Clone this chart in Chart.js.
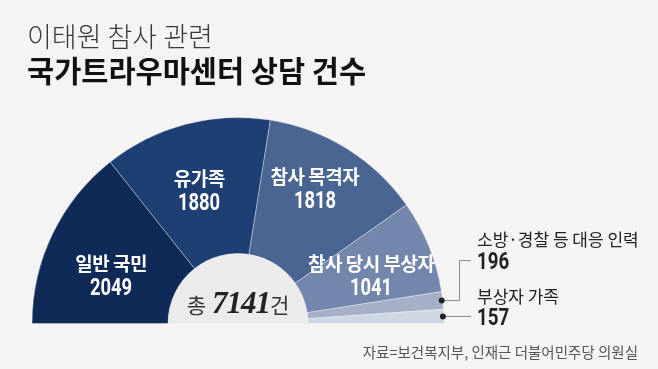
<!DOCTYPE html>
<html><head><meta charset="utf-8">
<script src="https://cdn.jsdelivr.net/npm/chart.js@4/dist/chart.umd.min.js"></script>
<style>
html,body{margin:0;padding:0;background:#f4f4f4;}
#wrap{position:relative;width:658px;height:369px;overflow:hidden;font-family:"Noto Sans CJK KR","Noto Sans",sans-serif;background:#f4f4f4;}
#c{position:absolute;left:0;top:0;}
.t{position:absolute;white-space:nowrap;line-height:1;}
.num{display:inline-block;font-family:Roboto,"Noto Sans",sans-serif;font-weight:700;}
</style></head>
<body><div id="wrap"><canvas id="c" width="658" height="369"></canvas></div>
<script>
// ---- data ----
const titleLine1 = '이태원 참사 관련';
const titleLine2 = '국가트라우마센터 상담 건수';
const categories = ['일반 국민', '유가족', '참사 목격자', '참사 당시 부상자', '소방·경찰 등 대응 인력', '부상자 가족'];
const counts = [2049, 1880, 1818, 1041, 196, 157];
const totalLabel = ['총', '7141', '건'];
const sourceText = '자료=보건복지부, 인재근 더불어민주당 의원실';

// ---- styles ----
const sliceColors = ['#0f2a56', '#1e3f74', '#4a6592', '#7386ac', '#a4b0c8', '#cfd6e3'];
// in-slice label placement: [angle nudge (deg, counter-clockwise), radius px]
const insideLabelPlace = [[4.7, 136], [1.4, 140], [2.6, 157], [-1.8, 142]];

const wrap = document.getElementById('wrap');
function place(html, x, y, css, anchor) {
  const d = document.createElement('div');
  d.className = 't';
  d.innerHTML = html;
  d.style.left = x + 'px';
  d.style.top = y + 'px';
  Object.assign(d.style, css || {});
  const tx = anchor === 'left' ? '0' : anchor === 'right' ? '-100%' : '-50%';
  d.style.transform = 'translate(' + tx + ',-50%)';
  wrap.appendChild(d);
  return d;
}
function numSpan(v, sx, origin) {
  return '<span class="num" style="transform:scaleX(' + sx + ');transform-origin:' + origin + ' center">' + v + '</span>';
}

const innerDisc = {
  id: 'innerDisc',
  beforeDatasetsDraw(chart) {
    const a = chart.getDatasetMeta(0).data[0];
    const ctx = chart.ctx;
    ctx.save();
    ctx.beginPath();
    ctx.arc(a.x, a.y, a.innerRadius, Math.PI, 2 * Math.PI);
    ctx.closePath();
    ctx.fillStyle = '#ebebeb';
    ctx.fill();
    ctx.restore();
  }
};
const leaders = {
  id: 'leaders',
  afterDatasetsDraw(chart) {
    const ctx = chart.ctx;
    const arcs = chart.getDatasetMeta(0).data;
    const targets = [[4, 459, 260], [5, null, null]];
    ctx.save();
    targets.forEach(([i, elbowX, ly]) => {
      const a = arcs[i];
      const m = (a.startAngle + a.endAngle) / 2;
      const px = a.x + Math.cos(m) * (a.outerRadius - 1);
      const py = a.y + Math.sin(m) * (a.outerRadius - 1);
      ctx.strokeStyle = '#8a8a8a';
      ctx.lineWidth = 1;
      ctx.beginPath();
      ctx.moveTo(px, py);
      if (elbowX !== null) {
        ctx.lineTo(elbowX + 0.5, py);
        ctx.lineTo(elbowX + 0.5, ly + 0.5);
        ctx.lineTo(471, ly + 0.5);
      } else {
        ctx.lineTo(471, py);
      }
      ctx.stroke();
      ctx.fillStyle = '#222';
      ctx.beginPath();
      ctx.arc(px, py, 3, 0, 2 * Math.PI);
      ctx.fill();
    });
    ctx.restore();
  }
};

const chart = new Chart(document.getElementById('c'), {
  type: 'doughnut',
  data: {
    labels: categories,
    datasets: [{
      data: counts,
      backgroundColor: sliceColors,
      borderColor: 'rgba(255,255,255,0.35)',
      borderWidth: 1
    }]
  },
  options: {
    responsive: false,
    animation: false,
    rotation: -90,
    circumference: 180,
    cutout: '34%',
    layout: { padding: { left: 31, top: 117, right: 213, bottom: 45 } },
    plugins: { legend: { display: false }, tooltip: { enabled: false } }
  },
  plugins: [innerDisc, leaders]
});

// titles
place(titleLine1, 27, 35, { fontSize: '27px', fontWeight: '300', color: '#3a3a3a' }, 'left');
place(titleLine2, 27, 70, { fontSize: '29.5px', fontWeight: '700', color: '#111' }, 'left');

// in-slice labels
const arcs = chart.getDatasetMeta(0).data;
for (let i = 0; i < 4; i++) {
  const a = arcs[i];
  const m = (a.startAngle + a.endAngle) / 2 - insideLabelPlace[i][0] * Math.PI / 180;
  const r = insideLabelPlace[i][1];
  const cx = a.x + Math.cos(m) * r;
  const cy = a.y + Math.sin(m) * r;
  place(categories[i], cx, cy - 12, { fontSize: '19px', fontWeight: '700', color: '#fff', letterSpacing: '-0.5px' }, 'center');
  place(numSpan(counts[i], 0.8, 'center'), cx, cy + 12, { fontSize: '23px', color: '#fff' }, 'center');
}

// outside labels
place(categories[4], 477, 238, { fontSize: '17px', fontWeight: '400', color: '#222' }, 'left');
place(numSpan(counts[4], 0.78, 'left'), 477, 260, { fontSize: '24px', color: '#222' }, 'left');
place(categories[5], 477, 295, { fontSize: '17px', fontWeight: '400', color: '#222' }, 'left');
place(numSpan(counts[5], 0.78, 'left'), 477, 316, { fontSize: '24px', color: '#222' }, 'left');

// total in centre
const a0 = arcs[0];
place('<span style="font-size:21px;color:#333">' + totalLabel[0] + '</span>' +
      '<span style="font-family:\'Liberation Serif\',serif;font-style:italic;font-weight:700;font-size:31px;color:#222;margin-left:6px;letter-spacing:-1px">' + totalLabel[1] + '</span>' +
      '<span style="font-size:21px;color:#333">' + totalLabel[2] + '</span>',
      a0.x, 302, {}, 'center');

// source
place(sourceText, 638, 352, { fontSize: '14.5px', color: '#555' }, 'right');
</script>
</body></html>
